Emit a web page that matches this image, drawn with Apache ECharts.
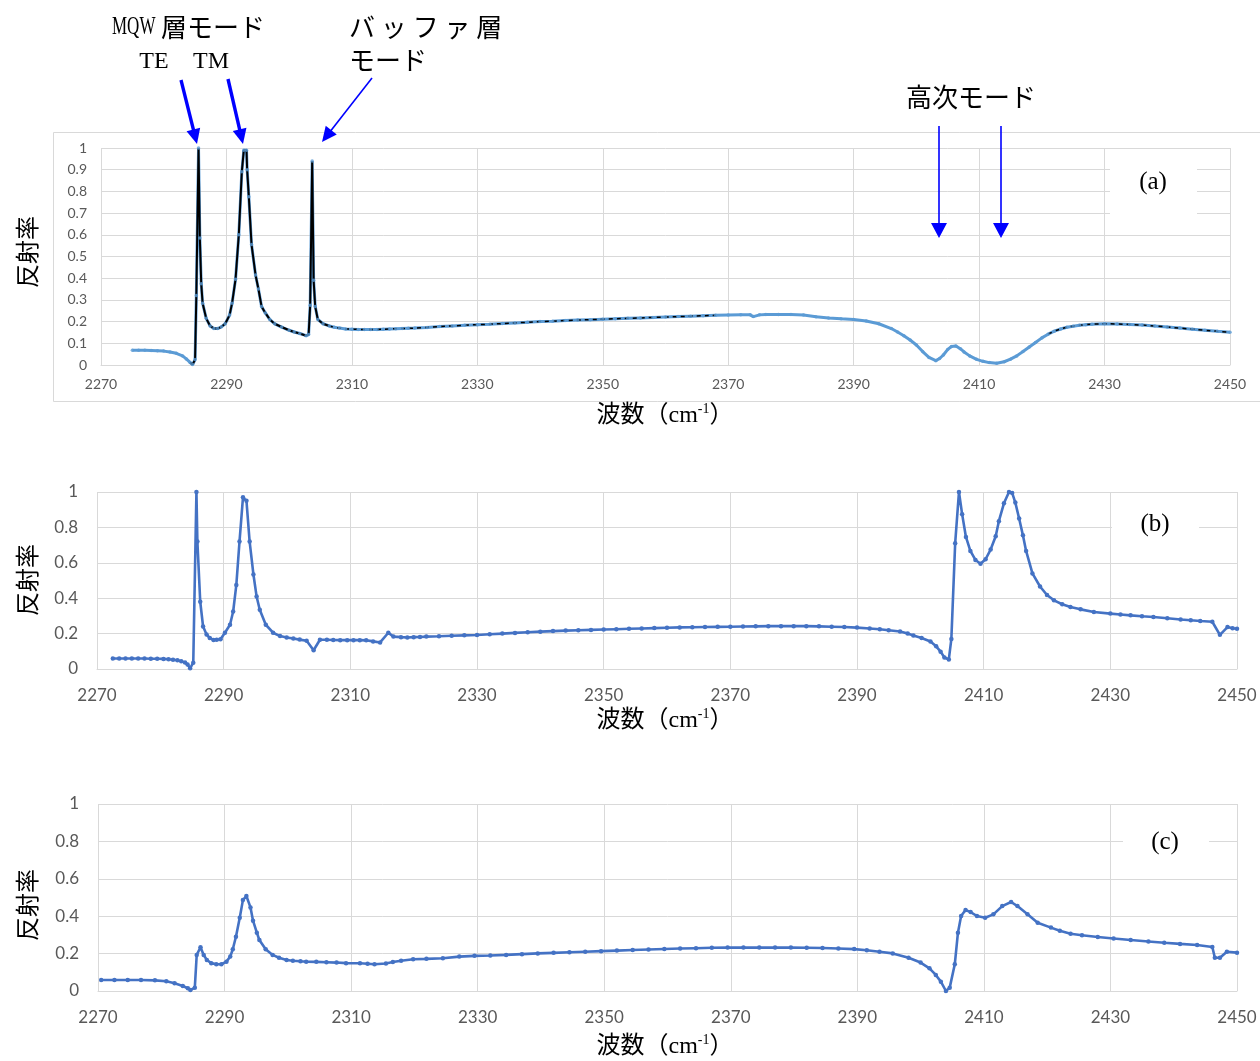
<!DOCTYPE html>
<html><head><meta charset="utf-8">
<script src="https://cdn.jsdelivr.net/npm/echarts@6/dist/echarts.min.js"></script>
<style>html,body{margin:0;padding:0;background:#fff}#c{width:1260px;height:1061px}</style>
</head><body><div id="c"></div>
<script>
// ---------- data ----------
const xTicks = [2270, 2290, 2310, 2330, 2350, 2370, 2390, 2410, 2430, 2450];

// (a) measured reflectance
const aX = [2275,2276,2277,2278,2279,2280,2281,2282,2283,2283.6,
  2284.2,2284.6,2285.0,2285.2,2285.55,2285.76,2285.98,2286.2,2286.77,2287.4,
  2288.0,2288.6,2289.2,2289.8,2290.5,2290.9,2291.45,2291.97,2292.45,2292.77,
  2293.2,2293.3,2293.57,2294.0,2294.64,2295.1,2295.6,2296.2,2296.9,2297.7,
  2298.8,2300.0,2300.8,2301.7,2302.7,2303.1,2303.35,2303.67,2303.9,2304.15,
  2304.57,2305.4,2306.4,2307.2,2308,2309,2310,2311,2312,2313,
  2314,2315,2316,2317,2318,2319,2320,2322,2324,2326,
  2328,2330,2332,2334,2336,2338,2340,2342,2344,2346,
  2348,2350,2352,2354,2356,2358,2360,2362,2364,2366,
  2368,2370,2372,2373.5,2374,2375,2376,2378,2380,2382,
  2384,2386,2388,2390,2392,2394,2396,2397,2398,2399,
  2400,2401,2402,2403.1,2403.7,2404.3,2405,2405.6,2406.3,2407,
  2407.6,2408.5,2409.6,2410.6,2411.6,2412.8,2414,2415,2416,2417,
  2418,2419,2420,2421,2422,2423,2424,2425,2426,2427,
  2428,2430,2432,2434,2436,2438,2440,2442,2444,2446,
  2448,2450];
const aY = [0.068,0.068,0.068,0.067,0.066,0.064,0.060,0.054,0.042,0.028,
  0.012,0.002,0.025,0.32,1.0,0.585,0.375,0.285,0.215,0.180,
  0.168,0.168,0.176,0.19,0.23,0.285,0.395,0.60,0.89,0.99,
  0.99,0.90,0.775,0.555,0.415,0.35,0.27,0.24,0.21,0.19,
  0.175,0.16,0.152,0.145,0.135,0.14,0.275,0.94,0.39,0.27,
  0.21,0.19,0.18,0.174,0.17,0.166,0.165,0.164,0.164,0.164,
  0.164,0.165,0.166,0.167,0.168,0.169,0.170,0.173,0.177,0.180,
  0.183,0.186,0.188,0.191,0.194,0.197,0.200,0.202,0.205,0.207,
  0.209,0.211,0.213,0.215,0.217,0.219,0.221,0.223,0.225,0.227,
  0.229,0.230,0.231,0.231,0.223,0.231,0.233,0.233,0.233,0.230,
  0.222,0.217,0.213,0.210,0.203,0.190,0.168,0.152,0.135,0.115,
  0.092,0.062,0.035,0.020,0.030,0.046,0.072,0.085,0.088,0.075,
  0.060,0.042,0.026,0.017,0.011,0.008,0.015,0.027,0.042,0.062,
  0.083,0.104,0.125,0.142,0.156,0.166,0.174,0.179,0.183,0.186,
  0.188,0.190,0.189,0.187,0.184,0.180,0.175,0.170,0.165,0.160,
  0.155,0.151];
// (a) ranges covered by the black calculated curve (solid, then dashed)
const aFitSolid = [[2284, 2306.4]];
const aFitDashed = [[2306.4, 2369], [2421, 2450]];

// (b)
const bX = [2272.5,2273.5,2274.5,2275.5,2276.5,2277.5,2278.5,2279.5,2280.5,2281.3,
  2282,2282.7,2283.3,2283.9,2284.3,2284.7,2285.2,2285.7,2285.85,2286.3,
  2286.75,2287.3,2287.8,2288.4,2288.9,2289.5,2290.2,2291.0,2291.5,2292.0,
  2292.5,2293.05,2293.6,2294.1,2294.7,2295.2,2295.7,2296.65,2297.8,2298.9,
  2299.95,2301,2302,2303.1,2304.2,2305.2,2306.3,2307.3,2308.4,2309.5,
  2310.5,2311.5,2312.5,2313.6,2314.7,2316,2316.8,2318,2319,2320,
  2321,2322,2324,2326,2328,2330,2332,2334,2336,2338,
  2340,2342,2344,2346,2348,2350,2352,2354,2356,2358,
  2360,2362,2364,2366,2368,2370,2372,2374,2376,2378,
  2380,2382,2384,2386,2388,2390,2392,2393.6,2395,2396.8,
  2398,2398.9,2400.2,2401.6,2402.5,2403.2,2403.8,2404.5,2404.9,2405.5,
  2406.1,2406.6,2407.2,2407.9,2408.7,2409.5,2410.3,2411.1,2411.9,2412.4,
  2413.2,2414.0,2414.5,2415.0,2415.6,2416.2,2416.7,2417.7,2418.9,2420.0,
  2421.1,2422.4,2423.7,2425.3,2427.4,2430,2431.6,2433.2,2435,2436.8,
  2439,2441.1,2442.7,2444.2,2446.1,2447.3,2448.5,2449.3,2450];
const bY = [0.059,0.059,0.059,0.059,0.059,0.059,0.058,0.058,0.057,0.055,
  0.052,0.049,0.044,0.037,0.025,0.004,0.036,1.0,0.72,0.38,
  0.24,0.195,0.175,0.164,0.165,0.168,0.205,0.25,0.325,0.475,
  0.72,0.97,0.95,0.72,0.534,0.41,0.335,0.25,0.205,0.186,
  0.178,0.172,0.166,0.16,0.106,0.165,0.165,0.164,0.163,0.163,
  0.163,0.163,0.162,0.156,0.150,0.205,0.183,0.180,0.178,0.180,
  0.181,0.183,0.185,0.188,0.190,0.192,0.196,0.200,0.204,0.208,
  0.211,0.214,0.217,0.219,0.221,0.223,0.225,0.227,0.229,0.231,
  0.233,0.235,0.236,0.237,0.238,0.239,0.240,0.241,0.242,0.242,
  0.242,0.242,0.241,0.239,0.237,0.234,0.229,0.225,0.219,0.212,
  0.200,0.189,0.175,0.155,0.128,0.098,0.065,0.054,0.17,0.71,
  1.0,0.875,0.746,0.667,0.616,0.595,0.62,0.675,0.75,0.835,
  0.936,1.0,0.995,0.94,0.85,0.755,0.667,0.54,0.466,0.418,
  0.388,0.366,0.35,0.337,0.322,0.313,0.308,0.303,0.298,0.294,
  0.287,0.280,0.275,0.271,0.267,0.193,0.237,0.230,0.228];

// (c)
const cX = [2270.5,2272.6,2274.7,2276.8,2279,2280.8,2282.1,2283.4,2284.2,2284.6,
  2285.3,2285.6,2286.2,2286.7,2287.2,2287.9,2288.7,2289.5,2290.3,2290.9,
  2291.3,2291.8,2292.4,2292.9,2293.45,2294.1,2294.5,2295.1,2295.5,2296.5,
  2297.6,2298.6,2299.8,2300.8,2302,2302.9,2304.5,2306.1,2307.7,2309.2,
  2311.4,2312.6,2313.7,2315.5,2316.6,2317.9,2319.8,2321.9,2324.5,2327.1,
  2329.5,2332,2334.5,2337,2339.5,2342,2344.5,2347,2349.5,2352,
  2354.5,2357,2359.5,2362,2364.5,2367,2369.5,2372,2374.5,2377,
  2379.5,2382,2384.5,2387,2389.5,2391.5,2393.5,2395.6,2398.1,2400,
  2401.4,2402.4,2403.2,2404.0,2404.6,2405.4,2405.9,2406.4,2407.1,2407.9,
  2408.9,2410.2,2411.5,2412.9,2414.3,2415.3,2416.9,2418.5,2420.6,2422,
  2423.7,2425.5,2428,2430.5,2433.2,2436,2438.5,2441,2443.7,2446.1,
  2446.5,2447.3,2448.4,2450];
const cY = [0.059,0.059,0.059,0.059,0.057,0.052,0.041,0.027,0.015,0.005,
  0.018,0.193,0.234,0.193,0.166,0.149,0.143,0.143,0.157,0.184,
  0.223,0.29,0.392,0.486,0.508,0.447,0.376,0.312,0.273,0.223,
  0.193,0.178,0.166,0.162,0.159,0.157,0.156,0.154,0.152,0.149,
  0.148,0.146,0.143,0.147,0.155,0.162,0.170,0.172,0.175,0.184,
  0.188,0.190,0.193,0.197,0.201,0.204,0.207,0.210,0.213,0.216,
  0.219,0.222,0.225,0.227,0.229,0.231,0.232,0.232,0.232,0.232,
  0.232,0.231,0.230,0.227,0.224,0.218,0.210,0.201,0.178,0.152,
  0.121,0.086,0.05,0.0,0.018,0.143,0.312,0.401,0.433,0.422,
  0.401,0.392,0.41,0.454,0.476,0.454,0.41,0.365,0.339,0.322,
  0.306,0.298,0.289,0.281,0.273,0.265,0.258,0.252,0.246,0.235,
  0.178,0.178,0.21,0.205];

// ---------- chart ----------
const pairs = (xs, ys) => xs.map((x, i) => [x, ys[i]]);
const fitData = ranges => aX.map((x, i) => [x, ranges.some(r => x >= r[0] && x <= r[1]) ? aY[i] : '-']);

const GRID_C = '#d9d9d9', LBL_C = '#595959';
const SERIF = '"Liberation Serif","Noto Sans CJK JP",serif';
const JP = '"Noto Sans CJK JP","Liberation Serif",serif';

function xAxisCfg(gi, fs, margin) {
  return {type: 'value', gridIndex: gi, min: xTicks[0], max: xTicks[xTicks.length - 1], interval: 20,
    axisLine: {show: true, lineStyle: {color: GRID_C, width: 1}}, axisTick: {show: false},
    splitLine: {show: true, lineStyle: {color: GRID_C, width: 1}},
    axisLabel: {color: LBL_C, fontSize: fs, fontFamily: 'Lato', margin: margin, formatter: v => String(v)}};
}
function yAxisCfg(gi, step, fs, margin) {
  return {type: 'value', gridIndex: gi, min: 0, max: 1, interval: step,
    axisLine: {show: false}, axisTick: {show: false},
    splitLine: {show: true, lineStyle: {color: GRID_C, width: 1}},
    axisLabel: {color: LBL_C, fontSize: fs, fontFamily: 'Lato', margin: margin,
      formatter: v => String(Math.round(v * 10) / 10)}};
}

function arrow(x1, y1, x2, y2, w, hl, hw) {
  const dx = x2 - x1, dy = y2 - y1, L = Math.hypot(dx, dy), ux = dx / L, uy = dy / L;
  const bx = x2 - ux * hl, by = y2 - uy * hl, px = -uy, py = ux;
  return [
    {type: 'line', z: 100, shape: {x1: x1, y1: y1, x2: bx + ux, y2: by + uy}, style: {stroke: '#0000ff', lineWidth: w}},
    {type: 'polygon', z: 100, shape: {points: [[x2, y2], [bx + px * hw / 2, by + py * hw / 2], [bx - px * hw / 2, by - py * hw / 2]]},
      style: {fill: '#0000ff'}}
  ];
}
function txt(x, y, text, fs, font, opts) {
  return Object.assign({type: 'text', z: 100, x: x, y: y,
    style: Object.assign({text: text, fontSize: fs, fontFamily: font, fill: '#000',
      align: 'center', verticalAlign: 'middle', textAlign: 'center', textVerticalAlign: 'middle'}, (opts && opts.style) || {})},
    (opts && opts.el) || {});
}
function axisTitle(x, y) {
  return txt(x, y, '波数（cm{sup|-1}）', 24, SERIF, {style: {lineHeight: 28, rich: {sup: {fontSize: 14, fontFamily: SERIF, verticalAlign: 'top', lineHeight: 18}}}});
}
function yTitle(x, y) {
  return txt(x, y, '反射率', 24, JP, {el: {rotation: Math.PI / 2}});
}
function labelBox(x, y, w, h, cx, cy, s) {
  return [
    {type: 'rect', z: 90, shape: {x: x, y: y, width: w, height: h}, style: {fill: '#fff'}},
    txt(cx, cy, s, 25, SERIF)
  ];
}

const graphics = [].concat(
  [{type: 'rect', z: 5, shape: {x: 53.5, y: 132.5, width: 1230, height: 269}, style: {fill: 'none', stroke: GRID_C, lineWidth: 1}}],
  labelBox(1110, 166, 87, 50, 1153, 182, '(a)'),
  labelBox(1112, 506, 87, 42, 1155, 524, '(b)'),
  labelBox(1123, 823, 86, 40, 1165, 842, '(c)'),
  [
    axisTitle(665, 416), axisTitle(665, 721), axisTitle(665, 1047),
    yTitle(27, 252), yTitle(27, 580), yTitle(27, 905),
    {type: 'text', z: 100, x: 112, y: 27, scaleX: 0.68, style: {text: 'MQW', fontSize: 25, fontFamily: SERIF, fill: '#000', align: 'left', verticalAlign: 'middle', textAlign: 'left', textVerticalAlign: 'middle'}},
    txt(161, 27, '層モード', 26, JP, {style: {align: 'left', textAlign: 'left'}}),
    txt(154, 62, 'TE', 24, SERIF),
    txt(211, 62, 'TM', 24, SERIF),
    txt(349, 27, 'バ ッ フ ァ 層', 26, JP, {style: {align: 'left', textAlign: 'left'}}),
    txt(349, 60, 'モード', 26, JP, {style: {align: 'left', textAlign: 'left'}}),
    txt(906, 97, '高次モード', 26, JP, {style: {align: 'left', textAlign: 'left'}})
  ],
  arrow(181, 80, 197, 144, 3.4, 15, 14),
  arrow(228, 79, 243, 144, 3.4, 15, 14),
  arrow(372, 78, 322, 142, 1.6, 15, 14),
  arrow(939, 126, 939, 238, 1.6, 15, 16),
  arrow(1001, 126, 1001, 238, 1.6, 15, 16)
);

const chart = echarts.init(document.getElementById('c'), null, {renderer: 'canvas'});
chart.setOption({
  animation: false,
  backgroundColor: '#fff',
  grid: [
    {left: 101, top: 148, width: 1129, height: 217},
    {left: 97, top: 492, width: 1140, height: 177},
    {left: 98, top: 804, width: 1139, height: 187}
  ],
  xAxis: [xAxisCfg(0, 14, 12), xAxisCfg(1, 17, 18), xAxisCfg(2, 17, 18)],
  yAxis: [yAxisCfg(0, 0.1, 14, 14), yAxisCfg(1, 0.2, 17, 19), yAxisCfg(2, 0.2, 17, 19)],
  series: [
    {type: 'line', xAxisIndex: 0, yAxisIndex: 0, data: pairs(aX, aY), symbol: 'none', z: 2,
      lineStyle: {color: '#5B9BD5', width: 3}},
    {type: 'line', xAxisIndex: 0, yAxisIndex: 0, data: fitData(aFitSolid), symbol: 'none', connectNulls: false, z: 3,
      lineStyle: {color: '#000', width: 2}},
    {type: 'line', xAxisIndex: 0, yAxisIndex: 0, data: fitData(aFitDashed), symbol: 'none', connectNulls: false, z: 3,
      lineStyle: {color: '#000', width: 1.5, type: [4, 4]}},
    {type: 'scatter', xAxisIndex: 0, yAxisIndex: 0, data: pairs(aX, aY), symbol: 'circle', symbolSize: 3.5, z: 4,
      itemStyle: {color: '#5B9BD5'}},
    {type: 'line', xAxisIndex: 1, yAxisIndex: 1, data: pairs(bX, bY), symbol: 'circle', symbolSize: 4.5, showAllSymbol: true, z: 2,
      lineStyle: {color: '#4472C4', width: 2.6}, itemStyle: {color: '#4472C4'}},
    {type: 'line', xAxisIndex: 2, yAxisIndex: 2, data: pairs(cX, cY), symbol: 'circle', symbolSize: 4.5, showAllSymbol: true, z: 2,
      lineStyle: {color: '#4472C4', width: 2.6}, itemStyle: {color: '#4472C4'}}
  ],
  graphic: graphics
});
</script></body></html>
